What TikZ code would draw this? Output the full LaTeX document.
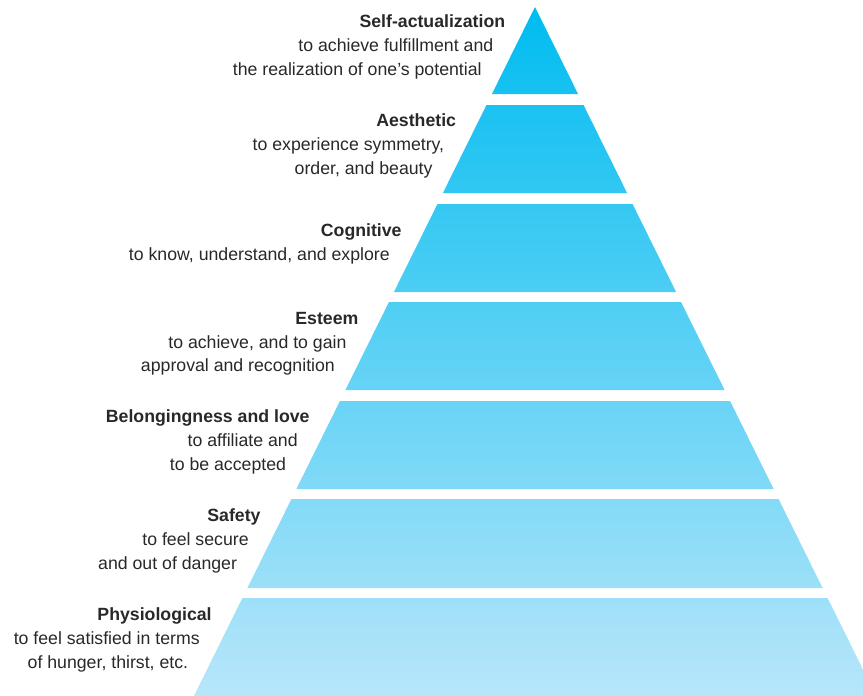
\documentclass[tikz,border=0pt]{standalone}
\usepackage{fontspec}
\setmainfont{Liberation Sans}
\definecolor{pyrtop}{RGB}{0,188,240}
\definecolor{pyrbot}{RGB}{184,230,250}
\definecolor{txt}{RGB}{40,40,40}
\newcommand\pyrtext[4]{\node[#2] (#1) at ({535-((#3)-13)*0.495-22.5}, #3) {#4};}
\begin{document}
\begin{tikzpicture}[x=1pt,y=-1pt,
  head/.style={font=\fontsize{17.7}{24}\selectfont\bfseries, text=txt, inner sep=0pt, anchor=base east},
  body/.style={font=\fontsize{17.7}{24}\selectfont, text=txt, inner sep=0pt, anchor=base east}]
\useasboundingbox (0,0) rectangle (863,696);
\coordinate (apex) at (535,7);
\coordinate (bl) at (193.9,696);
\coordinate (br) at (876.1,696);
\begin{scope}
  \clip (apex) -- (bl) -- (br) -- cycle;
  \shade[top color=pyrtop, bottom color=pyrbot]
    (0,7) rectangle (863,94)
    (0,105) rectangle (863,193)
    (0,204) rectangle (863,292)
    (0,302) rectangle (863,390)
    (0,401) rectangle (863,489)
    (0,499) rectangle (863,588)
    (0,598) rectangle (863,696);
\end{scope}
% Self-actualization
\pyrtext{sa1}{head}{27.5}{Self-actualization}
\pyrtext{sa2}{body}{51.5}{to achieve fulfillment and}
\pyrtext{sa3}{body}{75}{the realization of one’s potential}
% Aesthetic
\pyrtext{ae1}{head}{126.7}{Aesthetic}
\pyrtext{ae2}{body}{150.7}{to experience symmetry,}
\pyrtext{ae3}{body}{174.2}{order, and beauty}
% Cognitive
\pyrtext{co1}{head}{236.7}{Cognitive}
\pyrtext{co2}{body}{260.7}{to know, understand, and explore}
% Esteem
\pyrtext{es1}{head}{324}{Esteem}
\pyrtext{es2}{body}{348}{to achieve, and to gain}
\pyrtext{es3}{body}{371.5}{approval and recognition}
% Belongingness
\pyrtext{be1}{head}{422.7}{Belongingness and love}
\pyrtext{be2}{body}{446.7}{to affiliate and}
\pyrtext{be3}{body}{470.2}{to be accepted}
% Safety
\pyrtext{sf1}{head}{521.7}{Safety}
\pyrtext{sf2}{body}{545.7}{to feel secure}
\pyrtext{sf3}{body}{569.2}{and out of danger}
% Physiological
\pyrtext{ph1}{head}{620.5}{Physiological}
\pyrtext{ph2}{body}{644.5}{to feel satisfied in terms}
\pyrtext{ph3}{body}{668}{of hunger, thirst, etc.}
\end{tikzpicture}
\end{document}
